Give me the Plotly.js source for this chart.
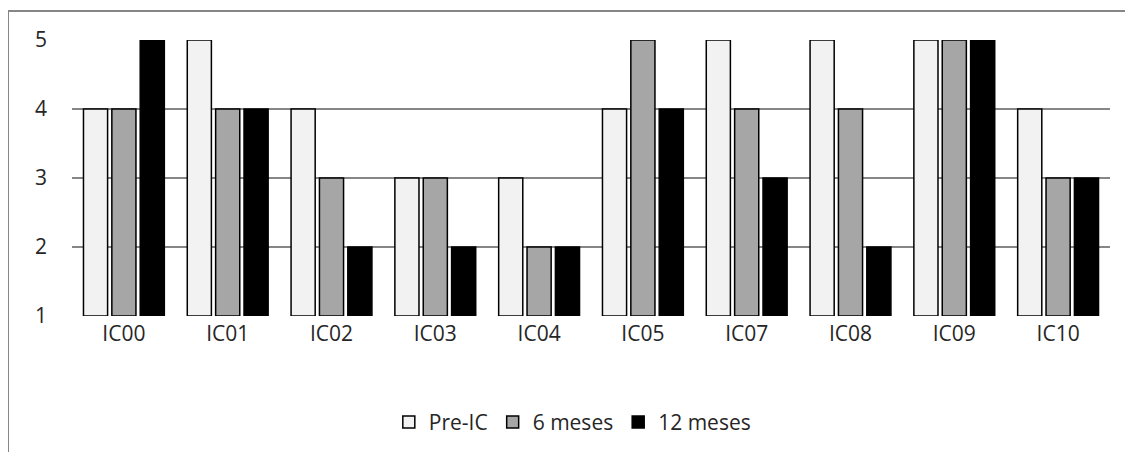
<!DOCTYPE html>
<html>
<head>
<meta charset="utf-8">
<script src="https://cdn.plot.ly/plotly-3.0.1.min.js"></script>
<style>
html,body{margin:0;padding:0;background:#fff;}
#wrap{position:absolute;left:0;top:0;width:1125px;height:452px;}
#frame{position:absolute;left:8px;top:10px;width:1130px;height:460px;border-left:1px solid #868686;border-top:2px solid #868686;box-sizing:border-box;pointer-events:none;}
#chart{position:absolute;left:0;top:0;width:1125px;height:452px;}
</style>
</head>
<body>
<div id="wrap">
<div id="chart"></div>
<div id="frame"></div>
</div>
<script>
const categories = ['IC00','IC01','IC02','IC03','IC04','IC05','IC07','IC08','IC09','IC10'];
const preIC     = [4,5,4,3,3,4,5,5,5,4];
const meses6    = [4,4,3,3,2,5,4,4,5,3];
const meses12   = [5,4,2,2,2,4,3,2,5,3];
const yTicks    = [1,2,3,4,5];
const seriesNames = ['Pre-IC','6 meses','12 meses'];
const seriesColors = ['#f2f2f2','#a6a6a6','#000000'];
const seriesVals = [preIC, meses6, meses12];

const base = 1;
const traces = seriesVals.map((vals, i) => ({
  type: 'bar',
  name: seriesNames[i],
  x: categories,
  y: vals.map(v => v - base),
  base: base,
  marker: {color: seriesColors[i], line: {color: '#000000', width: 1.5}},
  hoverinfo: 'skip'
}));

const font = "'Open Sans', 'Noto Sans', sans-serif";
const txt = '#262626';
const layout = {
  width: 1125, height: 452,
  margin: {l: 72, r: 15, t: 40, b: 136, autoexpand: false},
  paper_bgcolor: '#ffffff',
  plot_bgcolor: '#ffffff',
  barmode: 'group',
  bargap: 0.18,
  bargroupgap: 0.15,
  showlegend: true,
  legend: {
    orientation: 'h', x: 0.482, xanchor: 'center', y: -0.385, yanchor: 'middle',
    font: {family: font, size: 21, color: txt},
    traceorder: 'normal', itemwidth: 30
  },
  xaxis: {
    type: 'category', automargin: false,
    showgrid: false, zeroline: false, showline: false,
    ticks: '', ticklabelstandoff: 3,
    tickfont: {family: font, size: 21, color: txt}
  },
  yaxis: {
    range: [1, 5], tickvals: yTicks, ticktext: yTicks.map(String),
    automargin: false,
    showgrid: true, gridcolor: '#868686', gridwidth: 1.5,
    zeroline: false, showline: false, ticks: '',
    ticklabelstandoff: 24,
    tickfont: {family: font, size: 21, color: txt}
  }
};

Plotly.newPlot('chart', traces, layout, {displayModeBar: false, staticPlot: true});
</script>
</body>
</html>
